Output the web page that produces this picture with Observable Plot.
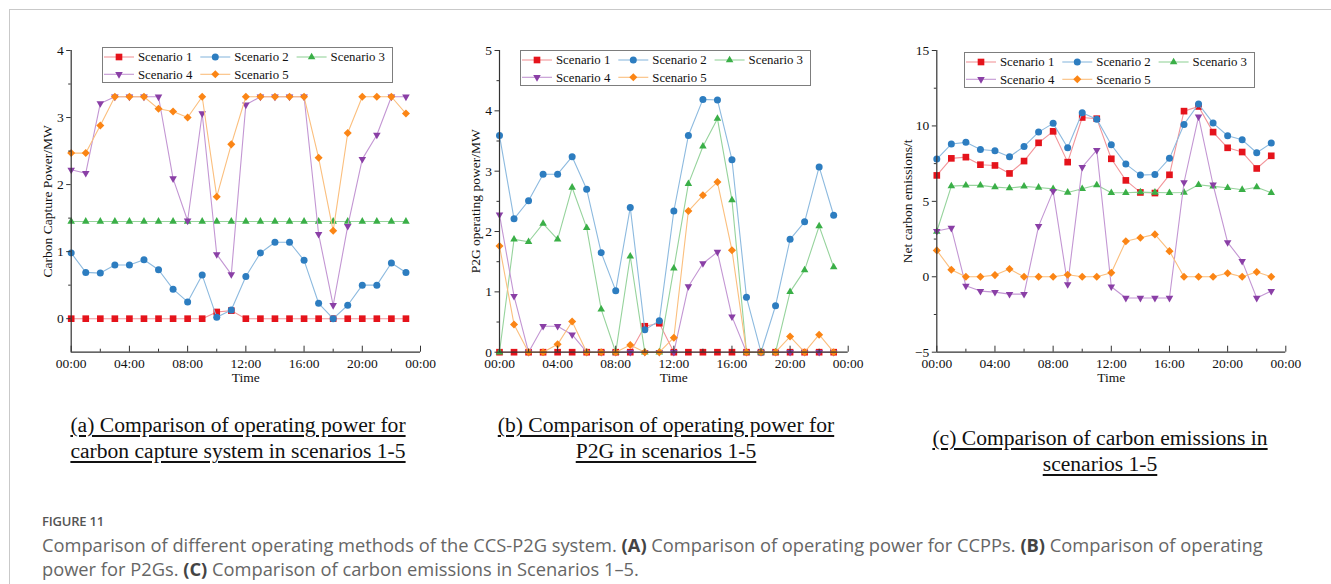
<!DOCTYPE html>
<html>
<head>
<meta charset="utf-8">
<script src="https://cdn.jsdelivr.net/npm/d3@7"></script>
<script src="https://cdn.jsdelivr.net/npm/@observablehq/plot@0.6"></script>
<style>
  html, body { margin: 0; padding: 0; background: #fff; }
  #page { position: relative; width: 1331px; height: 584px; overflow: hidden; background: #fff; }
  .frame { position: absolute; left: 9px; top: 9px; width: 1400px; height: 700px;
           border-top: 1px solid #c9c9c9; border-left: 1px solid #c9c9c9; }
  .panel { position: absolute; top: 0; }
  .legend { position: absolute; }
  .sub { position: absolute; width: 500px; font-family: "Liberation Serif", "Times New Roman", serif;
         font-size: 21.6px; line-height: 26px; text-align: center; color: #111;
         text-decoration: underline; text-decoration-thickness: 1.6px; text-underline-offset: 3px; white-space: nowrap; }
  .cap { position: absolute; left: 42px; top: 509px; font-family: "Open Sans", sans-serif; color: #666; }
  .cap .fig { font-size: 13px; font-weight: 600; color: #555; line-height: 24px; letter-spacing: -0.2px; }
  .cap .desc { font-size: 18.3px; line-height: 24px; white-space: nowrap; }
  .cap .desc b { color: #444; font-weight: 700; }
</style>
</head>
<body>
<div id="page">
  <div class="frame"></div>
  <div class="sub" style="left:-12px; top:412px;">(a) Comparison of operating power for<br>carbon capture system in scenarios 1-5</div>
  <div class="sub" style="left:416px; top:412px;">(b) Comparison of operating power for<br>P2G in scenarios 1-5</div>
  <div class="sub" style="left:850px; top:425px;">(c) Comparison of carbon emissions in<br>scenarios 1-5</div>
  <div class="cap">
    <div class="fig">FIGURE 11</div>
    <div class="desc">Comparison of different operating methods of the CCS-P2G system. <b>(A)</b> Comparison of operating power for CCPPs. <b>(B)</b> Comparison of operating<br>power for P2Gs. <b>(C)</b> Comparison of carbon emissions in Scenarios 1–5.</div>
  </div>
</div>
<script>
// Hours of the day (one value per hour)
const hours = [0, 1, 2, 3, 4, 5, 6, 7, 8, 9, 10, 11, 12, 13, 14, 15, 16, 17, 18, 19, 20, 21, 22, 23];
const scenarioNames = ["Scenario 1", "Scenario 2", "Scenario 3", "Scenario 4", "Scenario 5"];

// Time axis ticks
const xMajorTicks = [0, 4, 8, 12, 16, 20, 24];
const xMinorTicks = [2, 6, 10, 14, 18, 22];
const xTickLabels = ["00:00", "04:00", "08:00", "12:00", "16:00", "20:00", "00:00"];

// (a) Carbon capture power, MW
const capture1 = [0, 0, 0, 0, 0, 0, 0, 0, 0, 0, 0.10, 0.12, 0, 0, 0, 0, 0, 0, 0, 0, 0, 0, 0, 0];
const capture2 = [0.98, 0.69, 0.68, 0.80, 0.80, 0.88, 0.73, 0.44, 0.25, 0.65, 0.02, 0.13, 0.63, 0.98, 1.14, 1.14, 0.87, 0.23, 0, 0.20, 0.50, 0.50, 0.83, 0.69];
const capture3 = [1.45, 1.45, 1.45, 1.45, 1.45, 1.45, 1.45, 1.45, 1.45, 1.45, 1.45, 1.45, 1.45, 1.45, 1.45, 1.45, 1.45, 1.45, 1.45, 1.45, 1.45, 1.45, 1.45, 1.45];
const capture4 = [2.22, 2.17, 3.21, 3.31, 3.31, 3.31, 3.31, 2.09, 1.46, 3.06, 0.96, 0.66, 3.19, 3.31, 3.31, 3.31, 3.31, 1.26, 0.20, 1.38, 2.38, 2.74, 3.31, 3.31];
const capture5 = [2.47, 2.47, 2.88, 3.31, 3.31, 3.31, 3.13, 3.09, 3.00, 3.31, 1.82, 2.60, 3.31, 3.31, 3.31, 3.31, 3.31, 2.40, 1.31, 2.77, 3.31, 3.31, 3.31, 3.06];

// (b) P2G operating power, MW
const p2g1 = [0, 0, 0, 0, 0, 0, 0, 0, 0, 0, 0.43, 0.48, 0, 0, 0, 0, 0, 0, 0, 0, 0, 0, 0, 0];
const p2g2 = [3.59, 2.21, 2.51, 2.95, 2.95, 3.24, 2.70, 1.65, 1.02, 2.40, 0.37, 0.52, 2.34, 3.59, 4.19, 4.18, 3.19, 0.91, 0, 0.77, 1.87, 2.16, 3.07, 2.27];
const p2g3 = [0, 1.87, 1.83, 2.13, 1.87, 2.73, 2.06, 0.71, 0, 1.59, 0, 0, 1.39, 2.79, 3.41, 3.87, 2.52, 0, 0, 0, 1.00, 1.36, 2.09, 1.41];
const p2g4 = [2.28, 0.93, 0, 0.43, 0.43, 0.29, 0, 0, 0, 0, 0, 0, 0, 1.09, 1.47, 1.66, 0.59, 0, 0, 0, 0, 0, 0, 0];
const p2g5 = [1.76, 0.46, 0, 0, 0.13, 0.51, 0, 0, 0, 0.12, 0, 0, 0.24, 2.34, 2.60, 2.82, 1.69, 0, 0, 0, 0.26, 0, 0.29, 0];

// (c) Net carbon emissions, t
const emission1 = [6.72, 7.85, 7.93, 7.43, 7.38, 6.85, 7.67, 8.88, 9.64, 7.60, 10.56, 10.48, 7.82, 6.39, 5.59, 5.55, 6.76, 10.98, 11.29, 9.59, 8.55, 8.27, 7.18, 8.02];
const emission2 = [7.80, 8.80, 8.91, 8.44, 8.35, 7.96, 8.64, 9.59, 10.17, 8.55, 10.87, 10.45, 8.75, 7.47, 6.74, 6.78, 7.85, 10.10, 11.45, 10.19, 9.35, 9.08, 8.22, 8.86];
const emission3 = [3.00, 6.01, 6.06, 6.06, 5.94, 5.88, 5.99, 5.92, 5.83, 5.59, 5.83, 6.08, 5.57, 5.57, 5.61, 5.59, 5.57, 5.59, 6.10, 5.99, 5.90, 5.77, 5.94, 5.57];
const emission4 = [3.03, 3.23, -0.60, -0.95, -1.02, -1.15, -1.15, 3.36, 5.68, -0.51, 7.27, 8.40, -0.66, -1.41, -1.41, -1.41, -1.41, 6.25, 10.61, 6.10, 2.28, 1.04, -1.41, -0.95];
const emission5 = [1.75, 0.46, 0, 0, 0.11, 0.51, 0, 0, 0, 0.13, 0, 0, 0.27, 2.36, 2.59, 2.81, 1.70, 0, 0, 0, 0.24, 0, 0.31, 0];

// Styling per scenario
const markerColors = ["#e5131b", "#2d7dc0", "#3aaf47", "#8a3fa6", "#fb8515"];
const lineColors = ["#f2959a", "#8dbadf", "#96d39c", "#c396d3", "#fbbf7e"];

// Marker shapes (size is the symbol area passed in by Plot / d3.symbol)
const rOf = (size) => Math.sqrt(size / Math.PI);
const symSquare = { draw(c, size) { const s = rOf(size) * 0.95; c.rect(-s, -s, 2 * s, 2 * s); } };
const symCircle = { draw(c, size) { const r = rOf(size); c.moveTo(r, 0); c.arc(0, 0, r, 0, 2 * Math.PI); } };
const symUp = { draw(c, size) { const w = rOf(size) * 1.08, h = w * Math.sqrt(3);
  c.moveTo(0, -2 * h / 3); c.lineTo(w, h / 3); c.lineTo(-w, h / 3); c.closePath(); } };
const symDown = { draw(c, size) { const w = rOf(size) * 1.08, h = w * Math.sqrt(3);
  c.moveTo(0, 2 * h / 3); c.lineTo(w, -h / 3); c.lineTo(-w, -h / 3); c.closePath(); } };
const symDiamond = { draw(c, size) { const d = rOf(size) * 1.15;
  c.moveTo(0, -d); c.lineTo(d, 0); c.lineTo(0, d); c.lineTo(-d, 0); c.closePath(); } };
const symbols = [symSquare, symCircle, symUp, symDown, symDiamond];

const serif = '"Liberation Serif", "Times New Roman", serif';
const axisColor = "#333";
const dotR = 3.5;

const panels = [
  { left: 0, width: 440, ml: 70.7, mr: 20, yDomain: [-0.5, 4],
    yMajor: [0, 1, 2, 3, 4], yMinor: [0.5, 1.5, 2.5, 3.5],
    series: [capture1, capture2, capture3, capture4, capture5],
    yLabel: "Carbon Capture Power/MW", yLabelDx: -23.7,
    legend: { left: 102, top: 47 } },
  { left: 450, width: 420, ml: 49, mr: 22.3, yDomain: [0, 5],
    yMajor: [0, 1, 2, 3, 4, 5], yMinor: [0.5, 1.5, 2.5, 3.5, 4.5],
    series: [p2g1, p2g2, p2g3, p2g4, p2g5],
    yLabel: "P2G operating power/MW", yLabelDx: -24.3,
    legend: { left: 520, top: 50 } },
  { left: 880, width: 440, ml: 56.3, mr: 34.7, yDomain: [-5, 15],
    yMajor: [-5, 0, 5, 10, 15], yMinor: [-2.5, 2.5, 7.5, 12.5],
    series: [emission1, emission2, emission3, emission4, emission5],
    yLabel: "Net carbon emissions/t", yLabelDx: -29.6,
    legend: { left: 964, top: 51.7 } }
];

const page = document.getElementById("page");
const fmtY = (d) => (d < 0 ? "\u2212" + Math.abs(d) : String(d));

for (const p of panels) {
  const seriesMarks = p.series.flatMap((vals, k) => {
    const rows = hours.map((h, i) => ({ h, v: vals[i] }));
    return [
      Plot.line(rows, { x: "h", y: "v", stroke: lineColors[k], strokeWidth: 1.1 }),
      Plot.dot(rows, { x: "h", y: "v", symbol: symbols[k], fill: markerColors[k], stroke: "none", r: dotR })
    ];
  });

  const chart = Plot.plot({
    width: p.width,
    height: 400,
    marginLeft: p.ml,
    marginRight: p.mr,
    marginTop: 50,
    marginBottom: 48.3,
    style: { fontFamily: serif, fontSize: "13.5px", color: "#111", background: "transparent", overflow: "visible" },
    x: { domain: [0, 24] },
    y: { domain: p.yDomain },
    marks: [
      ...seriesMarks,
      // axis lines
      Plot.ruleX([0], { stroke: axisColor, strokeWidth: 1.2 }),
      Plot.ruleY([p.yDomain[0]], { stroke: axisColor, strokeWidth: 1.2 }),
      // y axis: outward ticks
      Plot.axisY({ ticks: p.yMajor, tickSize: 4.5, tickPadding: 3, tickFormat: fmtY, stroke: axisColor, fill: "#111", label: null }),
      Plot.axisY({ ticks: p.yMinor, tickSize: 2.5, text: null, stroke: axisColor, label: null }),
      // x axis: inward ticks, labels below
      Plot.axisX({ ticks: xMajorTicks, tickSize: 0, tickPadding: 6, fill: "#111", label: null,
                   tickFormat: (d) => xTickLabels[xMajorTicks.indexOf(d)] }),
      Plot.axisX({ ticks: xMajorTicks, tickSize: -6, text: null, stroke: axisColor, label: null }),
      Plot.axisX({ ticks: xMinorTicks, tickSize: -3, text: null, stroke: axisColor, label: null }),
      // axis titles
      Plot.text(["Time"], { frameAnchor: "bottom", dy: 30, fontSize: 13.5, fill: "#111" }),
      Plot.text([p.yLabel], { frameAnchor: "left", textAnchor: "middle", dx: p.yLabelDx, rotate: -90, fontSize: 13.5, fill: "#111" })
    ]
  });
  chart.classList.add("panel");
  chart.style.left = p.left + "px";
  chart.style.top = "0px";
  page.appendChild(chart);

  // Legend box drawn over the plot area
  const colW = 96.3, rowH = 17.3, legW = 291, legH = 36;
  const leg = d3.create("svg")
    .attr("class", "legend")
    .attr("width", legW).attr("height", legH)
    .style("left", p.legend.left + "px").style("top", p.legend.top + "px");
  leg.append("rect").attr("x", 0.5).attr("y", 0.5).attr("width", legW - 1).attr("height", legH - 1)
    .attr("fill", "#fff").attr("stroke", "#7d7d7d").attr("stroke-width", 1);
  scenarioNames.forEach((name, k) => {
    const col = k % 3, row = Math.floor(k / 3);
    const x0 = 2 + col * colW, y0 = 10 + row * rowH;
    const g = leg.append("g").attr("transform", `translate(${x0},${y0})`);
    g.append("line").attr("x1", 0).attr("x2", 30).attr("y1", 0).attr("y2", 0)
      .attr("stroke", lineColors[k]).attr("stroke-width", 1.1);
    g.append("path").attr("transform", "translate(15,0)")
      .attr("d", d3.symbol().type(symbols[k]).size(Math.PI * dotR * dotR)())
      .attr("fill", markerColors[k]);
    g.append("text").attr("x", 34).attr("y", 0).attr("dy", "0.35em")
      .attr("font-family", serif).attr("font-size", 12.8).attr("fill", "#111").text(name);
  });
  page.appendChild(leg.node());
}
</script>
</body>
</html>
